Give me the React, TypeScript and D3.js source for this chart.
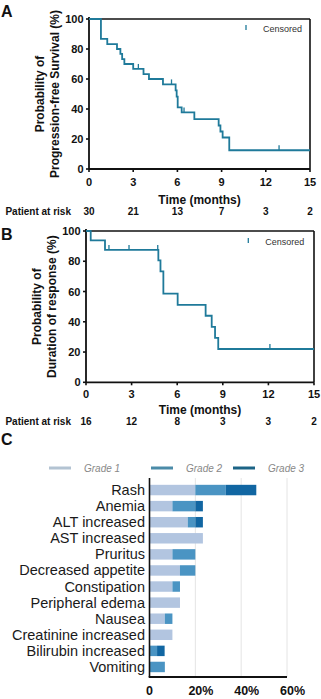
import React from "react";
import * as d3 from "d3";

// ---------- Panel A: Progression-free survival ----------
const pfsTimes = [0, 0.81, 1.24, 1.9, 2.13, 2.25, 2.4, 3.0, 3.7, 4.07, 5.02, 5.88, 5.95, 6.02, 6.29, 7.15, 8.8, 8.92, 9.07, 9.52, 15];
const pfsSurv = [100, 86.7, 83.3, 80, 76.7, 73.3, 70, 66.7, 63.3, 60, 56.4, 52.4, 48.3, 41.1, 37.7, 33.3, 29.0, 25.0, 21.0, 12.5, 12.5];
const pfsCensorTimes = [3.35, 5.6, 6.45, 12.9];
const pfsCensorSurv = [66.7, 56.4, 37.7, 12.5];
const pfsAtRisk = [30, 21, 13, 7, 3, 2];

// ---------- Panel B: Duration of response ----------
const dorTimes = [0, 0.31, 1.25, 4.76, 4.9, 5.09, 6.03, 7.87, 8.27, 8.49, 8.7, 15];
const dorSurv = [100, 93.75, 87.5, 80.6, 73.3, 58.6, 51.2, 44.0, 36.6, 29.3, 22.0, 22.0];
const dorCensorTimes = [1.51, 2.83, 4.72, 12.1];
const dorCensorSurv = [87.5, 87.5, 87.5, 22.0];
const dorAtRisk = [16, 12, 8, 3, 3, 2];

const timeTicks = [0, 3, 6, 9, 12, 15];
const survTicks = [0, 20, 40, 60, 80, 100];

// ---------- Panel C: Adverse events ----------
const aeCategories = [
  "Rash",
  "Anemia",
  "ALT increased",
  "AST increased",
  "Pruritus",
  "Decreased appetite",
  "Constipation",
  "Peripheral edema",
  "Nausea",
  "Creatinine increased",
  "Bilirubin increased",
  "Vomiting",
];
const grade1 = [20, 10, 16.7, 23.3, 10, 13.3, 10, 13.3, 6.7, 10, 0, 0];
const grade2 = [13.3, 10, 3.3, 0, 10, 6.7, 3.3, 0, 3.3, 0, 3.3, 6.7];
const grade3 = [13.3, 3.3, 3.3, 0, 0, 0, 0, 0, 0, 0, 3.3, 0];
const gradeNames = ["Grade 1", "Grade 2", "Grade 3"];
const pctTicks = [0, 20, 40, 60];

const FONT = "'Liberation Sans', Arial, Helvetica, sans-serif";
const CURVE = "#1f7a9a";

type KMProps = {
  x0: number;
  x1: number;
  yTop: number;
  yBot: number;
  times: number[];
  surv: number[];
  cTimes: number[];
  cSurv: number[];
  atRisk: number[];
  titleLines: string[];
  titleX: number[];
  tickLabelY: number;
  axisTitleY: number;
  riskY: number;
  legendX: number;
  legendY: number;
};

function KMPlot(p: KMProps) {
  const x = d3.scaleLinear().domain([0, 15]).range([p.x0, p.x1]);
  const y = d3.scaleLinear().domain([0, 100]).range([p.yBot, p.yTop]);
  const pts: [number, number][] = p.times.map((t, i) => [t, p.surv[i]]);
  const line = d3
    .line<[number, number]>()
    .x((d) => x(d[0]))
    .y((d) => y(d[1]))
    .curve(d3.curveStepAfter);
  const midY = (p.yTop + p.yBot) / 2;
  return (
    <g>
      {/* frame */}
      <line x1={x(0)} x2={x(15)} y1={y(100)} y2={y(100)} stroke="#111" strokeWidth={1.6} />
      <line x1={x(15)} x2={x(15)} y1={y(100)} y2={y(0)} stroke="#111" strokeWidth={1.6} />
      <line x1={x(0)} x2={x(15)} y1={y(0)} y2={y(0)} stroke="#111" strokeWidth={1.8} />
      <line x1={x(0)} x2={x(0)} y1={y(100) - 2} y2={y(0)} stroke="#111" strokeWidth={1.8} />
      {survTicks.map((v) => (
        <g key={"ys" + v}>
          <line x1={x(0) - 3} x2={x(0)} y1={y(v)} y2={y(v)} stroke="#111" strokeWidth={1.6} />
          <text x={x(0) - 5.5} y={y(v) + 4} textAnchor="end" fontSize={11} fontWeight="bold" fill="#111">
            {v}
          </text>
        </g>
      ))}
      {timeTicks.map((t, i) => (
        <g key={"xt" + t}>
          <line x1={x(t)} x2={x(t)} y1={y(0)} y2={y(0) + 3} stroke="#111" strokeWidth={1.6} />
          <text x={x(t)} y={p.tickLabelY} textAnchor="middle" fontSize={11} fontWeight="bold" fill="#111">
            {t}
          </text>
          <text x={x(t)} y={p.riskY} textAnchor="middle" fontSize={10} fontWeight="bold" fill="#111">
            {p.atRisk[i]}
          </text>
        </g>
      ))}
      <text x={71} y={p.riskY} textAnchor="end" fontSize={10} fontWeight="bold" fill="#111">
        Patient at risk
      </text>
      <text x={(p.x0 + p.x1) / 2} y={p.axisTitleY} textAnchor="middle" fontSize={12} fontWeight="bold" fill="#111">
        Time (months)
      </text>
      {p.titleLines.map((s, i) => (
        <text
          key={s}
          transform={`translate(${p.titleX[i]},${midY}) rotate(-90)`}
          textAnchor="middle"
          fontSize={12}
          fontWeight="bold"
          fill="#111"
        >
          {s}
        </text>
      ))}
      {/* curve */}
      <path d={line(pts) || ""} fill="none" stroke={CURVE} strokeWidth={1.8} />
      {p.cTimes.map((t, i) => (
        <line key={"c" + i} x1={x(t)} x2={x(t)} y1={y(p.cSurv[i]) - 5} y2={y(p.cSurv[i])} stroke={CURVE} strokeWidth={1.3} />
      ))}
      {/* legend */}
      <line x1={p.legendX} x2={p.legendX} y1={p.legendY - 7} y2={p.legendY - 2} stroke={CURVE} strokeWidth={1.3} />
      <text x={p.legendX + 17} y={p.legendY} fontSize={9} fill="#333">
        Censored
      </text>
    </g>
  );
}

function AEChart() {
  const x = d3.scaleLinear().domain([0, 60]).range([149.5, 287]);
  const y = d3.scaleBand<string>().domain(aeCategories).range([482, 675]).paddingInner(0.35).paddingOuter(0.175);
  const colors = ["#b2c5e0", "#4a94c3", "#1166a2"];
  const legendColors = ["#b3c3d2", "#4b8ba8", "#1c6486"];
  const stackRows = aeCategories.map((c, i) => ({ cat: c, g1: grade1[i], g2: grade2[i], g3: grade3[i] }));
  const series = d3.stack<any>().keys(["g1", "g2", "g3"])(stackRows);
  const legendLineX = [49, 151, 233];
  const axisTop = 478;
  const axisY = 677;
  return (
    <g>
      <text x={1} y={445} fontSize={16} fontWeight="bold" fill="#111">
        C
      </text>
      {gradeNames.map((g, i) => (
        <g key={g}>
          <line x1={legendLineX[i]} x2={legendLineX[i] + 22} y1={468} y2={468} stroke={legendColors[i]} strokeWidth={3} />
          <text x={legendLineX[i] + 35} y={471.5} fontSize={10} fontStyle="italic" fill="#888">
            {g}
          </text>
        </g>
      ))}
      {pctTicks
        .filter((v) => v > 0)
        .map((v) => (
          <line key={"g" + v} x1={x(v)} x2={x(v)} y1={axisTop} y2={axisY} stroke="#e4e4e4" strokeWidth={1} />
        ))}
      {series.map((s, si) =>
        s.map((d, i) =>
          d[1] - d[0] > 0 ? (
            <rect
              key={si + "-" + i}
              x={x(d[0])}
              y={y(aeCategories[i])}
              width={x(d[1]) - x(d[0])}
              height={y.bandwidth()}
              fill={colors[si]}
            />
          ) : null
        )
      )}
      {aeCategories.map((c) => (
        <text key={c} x={145} y={(y(c) || 0) + y.bandwidth() / 2 + 5} textAnchor="end" fontSize={14.5} fill="#1a1a1a">
          {c}
        </text>
      ))}
      <line x1={x(0)} x2={x(0)} y1={axisTop} y2={axisY} stroke="#111" strokeWidth={1.6} />
      <line x1={x(0) - 0.8} x2={x(60)} y1={axisY} y2={axisY} stroke="#111" strokeWidth={2} />
      {pctTicks.map((v) => {
        const num = String(v);
        const fs = 12.5;
        return (
          <text
            key={"pl" + v}
            x={x(v) - (num.length * 0.556 * fs) / 2}
            y={694.5}
            fontSize={fs}
            fontWeight="bold"
            fill="#111"
          >
            {v === 0 ? "0" : v + "%"}
          </text>
        );
      })}
    </g>
  );
}

export default function App() {
  return (
    <svg
      width={321}
      height={699}
      style={{ position: "absolute", left: 0, top: 0, background: "#fff", fontFamily: FONT }}
      fontFamily={FONT}
    >
      <rect x={0} y={0} width={321} height={699} fill="#fff" />
      <text x={1} y={17} fontSize={16} fontWeight="bold" fill="#111">
        A
      </text>
      <KMPlot
        x0={89}
        x1={310}
        yTop={19}
        yBot={169}
        times={pfsTimes}
        surv={pfsSurv}
        cTimes={pfsCensorTimes}
        cSurv={pfsCensorSurv}
        atRisk={pfsAtRisk}
        titleLines={["Probability of", "Progression-free Survival (%)"]}
        titleX={[43.5, 58.5]}
        tickLabelY={186}
        axisTitleY={203.5}
        riskY={215}
        legendX={246}
        legendY={32}
      />
      <text x={1} y={240} fontSize={16} fontWeight="bold" fill="#111">
        B
      </text>
      <KMPlot
        x0={86}
        x1={314}
        yTop={231}
        yBot={382.3}
        times={dorTimes}
        surv={dorSurv}
        cTimes={dorCensorTimes}
        cSurv={dorCensorSurv}
        atRisk={dorAtRisk}
        titleLines={["Probability of", "Duration of response (%)"]}
        titleX={[40.5, 55.5]}
        tickLabelY={397.5}
        axisTitleY={413.5}
        riskY={425}
        legendX={248.3}
        legendY={245}
      />
      <AEChart />
    </svg>
  );
}
